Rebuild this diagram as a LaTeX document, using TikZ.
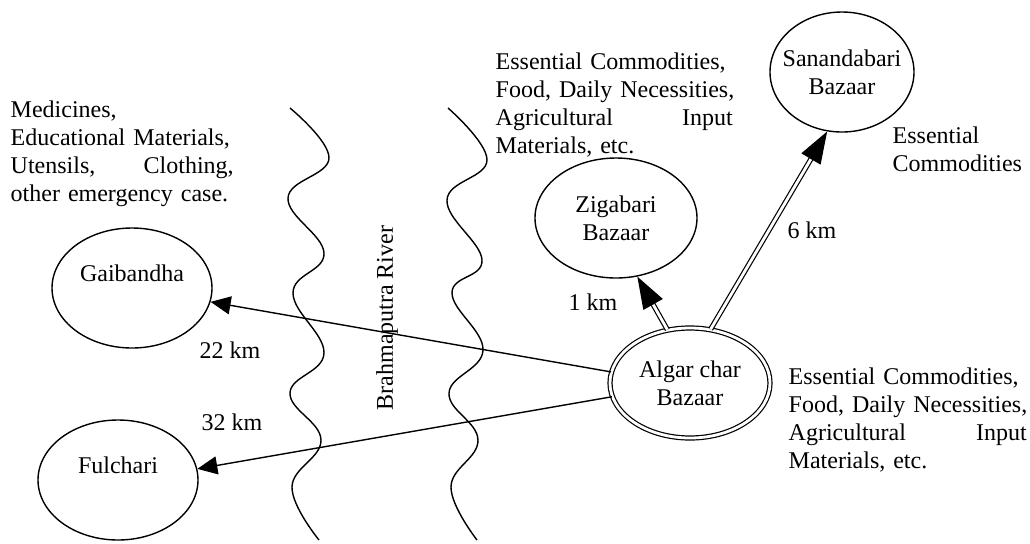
\documentclass[tikz,border=0pt]{standalone}
\usepackage{fontspec}
\setmainfont{Liberation Serif}
\usetikzlibrary{arrows.meta,calc,shapes.geometric}
\begin{document}
\begin{tikzpicture}[x=0.5pt,y=-0.5pt,font=\fontsize{12}{14}\selectfont,line width=0.7pt]
    \tikzstyle{bazaar}=[draw,ellipse,inner sep=0pt,align=center];
    \tikzstyle{note}=[inner sep=0pt,anchor=north west,align=left];
    \tikzstyle{road}=[-{Triangle[length=10pt,width=9pt]}];
    \tikzstyle{dbl}=[double,double distance=1.4pt,line width=0.6pt];
    \tikzstyle{bighead}=[-{Triangle[length=16pt,width=11pt]}];
    \useasboundingbox (0,0) rectangle (1030,543);

    % the river banks
    \draw plot[smooth,tension=0.7] coordinates {(290,108) (329,158) (288,198) (324,253) (293,293) (324,353) (290,393) (321,440) (292,487) (319,540)};
    \draw plot[smooth,tension=0.7] coordinates {(448,108) (487,160) (447,200) (482,260) (452,293) (483,350) (449,393) (478,440) (451,487) (477,540)};
    \node (river) [rotate=90] at (387,318) {Brahmaputra River};

    \node (gai) [bazaar,minimum width=80pt,minimum height=60pt,text height=8pt,text depth=15pt] at (132,288) {Gaibandha};
    \node (ful) [bazaar,minimum width=80pt,minimum height=60pt,text height=8pt,text depth=15pt] at (118,480) {Fulchari};
    \node (zig) [bazaar,minimum width=81pt,minimum height=60pt] at (616,218) {Zigabari\\Bazaar};
    \node (san) [bazaar,minimum width=72pt,minimum height=60pt,inner xsep=-5pt] at (842,72) {Sanandabari\\Bazaar};
    \node (alg) [bazaar,dbl,minimum width=80pt,minimum height=55pt] at (690,383) {Algar char\\Bazaar};

    \node (needs) [note,text width=111.5pt] at (10,100) {Medicines,\\Educational Materials,\\Utensils,\hfill Clothing,\\other emergency case.};
    \node (zgoods) [note,text width=118.5pt] at (495,52) {Essential Commodities,\\\mbox{Food, Daily Necessities,}\\Agricultural\hfill Input\\Materials, etc.};
    \node (agoods) [note,text width=119pt] at (788,367) {Essential Commodities,\\\mbox{Food, Daily Necessities,}\\Agricultural\hfill Input\\Materials, etc.};
    \node (sgoods) [note] at (892,126) {Essential\\Commodities};

    \node (d1) at (593,302) {1 km};
    \node (d6) at (812,230) {6 km};
    \node (d22) at (230,350) {22 km};
    \node (d32) at (232,422) {32 km};

    \draw[road] (alg.172) -- (gai.-10);
    \draw[road] (alg.190) -- (ful.8);

    \coordinate (zt) at (zig.-70);
    \coordinate (st) at (san.256);
    \foreach \a/\t in {113/zt,69/st}{
        \draw[dbl,shorten >=14pt] (alg.\a) -- (\t);
        \draw[bighead] ($(\t)!16pt!(alg.\a)$) -- (\t);
    }

\end{tikzpicture}
\end{document}
